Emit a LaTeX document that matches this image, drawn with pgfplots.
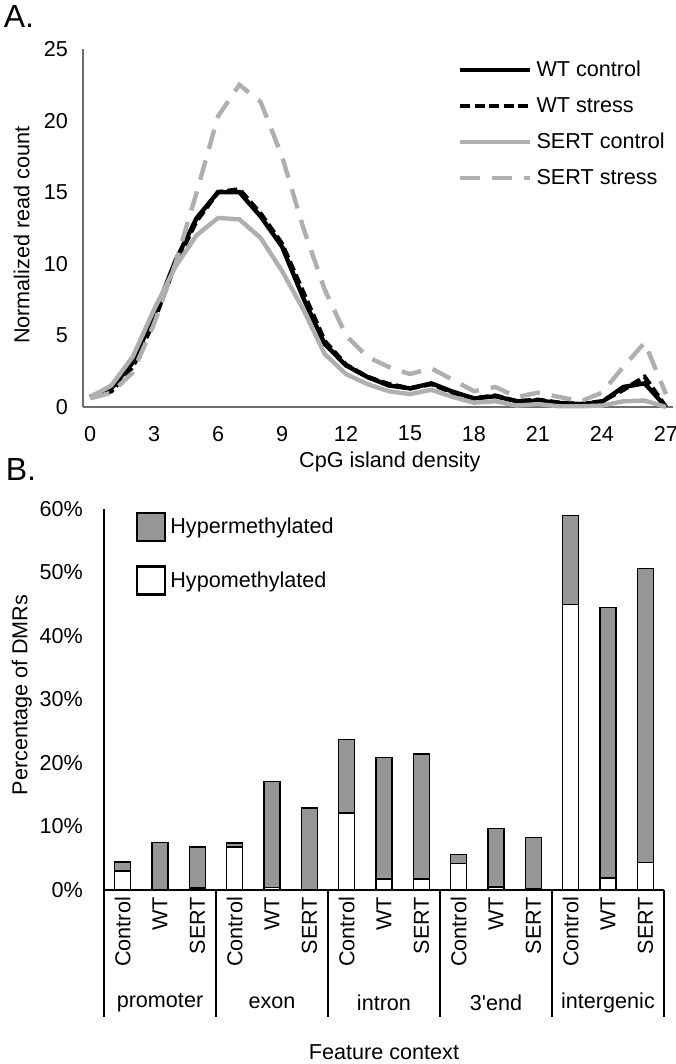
\documentclass[border=0pt]{standalone}
\usepackage{fontspec}
\setmainfont{Liberation Sans}
\usepackage{pgfplots}
\pgfplotsset{compat=1.18}
\definecolor{lgray}{RGB}{175,175,175}
\definecolor{bgray}{RGB}{150,150,150}
\definecolor{axgray}{RGB}{110,110,110}
\begin{document}
\begin{tikzpicture}[font=\fontsize{10.8}{13}\selectfont]
\useasboundingbox (0,0) rectangle (337.5pt,532pt);
\node[font=\fontsize{16}{18}\selectfont] at (9.5pt,523.5pt) {A.};
\node[font=\fontsize{16}{18}\selectfont] at (10.5pt,297pt) {B.};
\begin{axis}[
  at={(41.5pt,328.5pt)}, anchor=south west,
  width=295pt, height=179pt, scale only axis,
  xmin=-0.33, xmax=27.33, ymin=0, ymax=25,
  axis lines*=left,
  axis line style={draw=axgray, line width=0.8pt},
  xtick={0,3,...,27}, ytick={0,5,...,25},
  major tick length=0pt,
  tick label style={font=\fontsize{10.8}{13}\selectfont, /pgf/number format/assume math mode=true},
  xticklabel style={yshift=-6pt},
  yticklabel style={xshift=-4pt},
  xlabel={CpG island density},
  xlabel style={at={(axis description cs:0.52,-0.154)}, anchor=center, font=\fontsize{10.8}{13}\selectfont},
  ylabel={Normalized read count},
  ylabel style={at={(axis description cs:-0.104,0.48)}, anchor=center, font=\fontsize{10.8}{13}\selectfont},
  legend style={draw=none, fill=none, at={(axis description cs:0.625,0.99)}, anchor=north west, row sep=4.8pt, font=\fontsize{10.8}{13}\selectfont},
  legend cell align=left,
  legend image code/.code={\draw[#1] (0pt,0pt) -- (35pt,0pt);},
  clip=false,
]
\addplot[black, line width=2.2pt] coordinates {
(0,0.7) (1,1.3) (2,3.1) (3,6.4) (4,10.2) (5,13.2) (6,15.0) (7,15.0) (8,13.3) (9,11.2)
(10,7.6) (11,4.4) (12,2.9) (13,2.1) (14,1.5) (15,1.3) (16,1.65) (17,1.07) (18,0.6) (19,0.75)
(20,0.4) (21,0.45) (22,0.28) (23,0.2) (24,0.35) (25,1.4) (26,1.65) (27,0)};
\addlegendentry{WT control}
\addplot[black, line width=2.2pt, dash pattern=on 5pt off 2.2pt] coordinates {
(0,0.7) (1,1.1) (2,2.8) (3,6.0) (4,10.0) (5,13.0) (6,15.0) (7,15.2) (8,13.5) (9,11.4)
(10,8.0) (11,4.6) (12,2.95) (13,2.1) (14,1.6) (15,1.3) (16,1.6) (17,1.0) (18,0.6) (19,0.8)
(20,0.4) (21,0.5) (22,0.3) (23,0.2) (24,0.4) (25,1.2) (26,2.1) (27,0)};
\addlegendentry{WT stress}
\addplot[lgray, line width=2.2pt] coordinates {
(0,0.7) (1,1.5) (2,3.5) (3,6.8) (4,9.8) (5,12.0) (6,13.2) (7,13.1) (8,11.8) (9,9.5)
(10,6.8) (11,3.7) (12,2.3) (13,1.6) (14,1.1) (15,0.9) (16,1.2) (17,0.7) (18,0.3) (19,0.4)
(20,0.1) (21,0.2) (22,0.05) (23,0.05) (24,0.1) (25,0.4) (26,0.45) (27,0)};
\addlegendentry{SERT control}
\addplot[lgray, line width=2.2pt, dash pattern=on 10pt off 6pt] coordinates {
(0,0.6) (1,1.0) (2,2.4) (3,5.8) (4,10.0) (5,15.0) (6,20.3) (7,22.5) (8,21.3) (9,17.5)
(10,12.5) (11,8.2) (12,5.0) (13,3.5) (14,2.8) (15,2.3) (16,2.7) (17,1.9) (18,1.1) (19,1.4)
(20,0.7) (21,1.0) (22,0.7) (23,0.4) (24,1.0) (25,2.8) (26,4.5) (27,0.9)};
\addlegendentry{SERT stress}
\end{axis}

\begin{axis}[
  at={(52pt,87pt)}, anchor=south west,
  width=280pt, height=190.5pt, scale only axis,
  xmin=-0.5, xmax=14.5, ymin=0, ymax=60,
  ybar stacked, bar width=8pt,
  axis lines*=left,
  axis line style={draw=black, line width=1pt},
  xtick={0,...,14},
  xticklabels={Control,WT,SERT,Control,WT,SERT,Control,WT,SERT,Control,WT,SERT,Control,WT,SERT},
  xticklabel style={rotate=90, anchor=east, font=\fontsize{10.8}{13}\selectfont},
  ytick={0,10,...,60},
  yticklabels={0\%,10\%,20\%,30\%,40\%,50\%,60\%},
  yticklabel style={font=\fontsize{10.8}{13}\selectfont, xshift=-7pt},
  major tick length=0pt,
  ylabel={Percentage of DMRs},
  ylabel style={at={(axis description cs:-0.147,0.512)}, anchor=center, font=\fontsize{10.8}{13}\selectfont},
  legend style={draw=none, fill=none, at={(axis description cs:0.045,1.005)}, anchor=north west, row sep=11.5pt, font=\fontsize{10.8}{13}\selectfont},
  legend cell align=left,
  reverse legend,
  legend image code/.code={\draw[#1, line width=1.4pt] (0pt,-7pt) rectangle (14pt,7pt);},
  clip=false,
]
\addplot[fill=white, draw=black, line width=0.75pt] coordinates {
(0,3.0) (1,0) (2,0.3) (3,6.8) (4,0.4) (5,0) (6,12.1) (7,1.7) (8,1.7) (9,4.2) (10,0.5) (11,0.2) (12,45.0) (13,1.9) (14,4.3)};
\addlegendentry{Hypomethylated}
\addplot[fill=bgray, draw=black, line width=0.75pt] coordinates {
(0,1.4) (1,7.5) (2,6.5) (3,0.6) (4,16.7) (5,12.9) (6,11.6) (7,19.2) (8,19.7) (9,1.4) (10,9.2) (11,8.1) (12,14.0) (13,42.6) (14,46.3)};
\addlegendentry{Hypermethylated}
\pgfplotsinvokeforeach{-0.5,2.5,5.5,8.5,11.5,14.5}{
  \draw[line width=1pt] (axis cs:#1,0) -- ++(0pt,-63.5pt);
}
\node at ([yshift=-56.5pt]axis cs:1,0) {promoter};
\node at ([yshift=-56.5pt]axis cs:4,0) {exon};
\node at ([yshift=-56.5pt]axis cs:7,0) {intron};
\node at ([yshift=-56.5pt]axis cs:10,0) {3\textquotesingle end};
\node at ([yshift=-56.5pt]axis cs:13,0) {intergenic};
\node at ([yshift=-81pt]axis cs:7,0) {Feature context};
\end{axis}
\end{tikzpicture}
\end{document}
